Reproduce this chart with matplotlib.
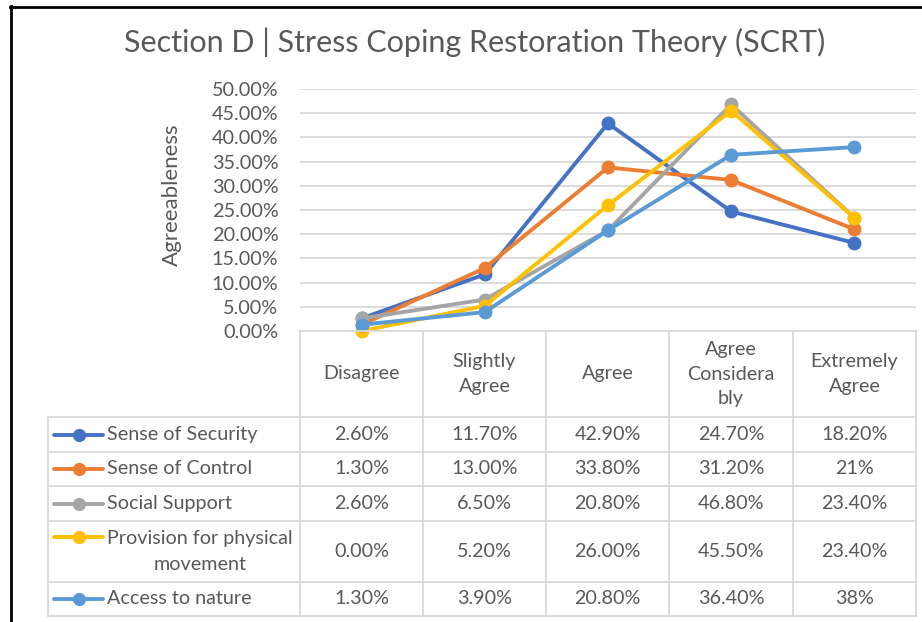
import matplotlib
matplotlib.use("Agg")
import matplotlib.pyplot as plt
from matplotlib.lines import Line2D
import numpy as np

plt.rcParams['font.family'] = ['Lato', 'DejaVu Sans']

categories = ["Disagree", "Slightly\nAgree", "Agree", "Agree\nConsidera\nbly", "Extremely\nAgree"]
series_names = ["Sense of Security", "Sense of Control", "Social Support",
                "Provision for physical\nmovement", "Access to nature"]
sense_of_security = [2.6, 11.7, 42.9, 24.7, 18.2]
sense_of_control = [1.3, 13.0, 33.8, 31.2, 21.0]
social_support = [2.6, 6.5, 20.8, 46.8, 23.4]
physical_movement = [0.0, 5.2, 26.0, 45.5, 23.4]
access_to_nature = [1.3, 3.9, 20.8, 36.4, 38.0]
# cells that Excel showed without decimals (row, col)
whole_pct_cells = {(1, 4), (4, 4)}
yticks = [0, 5, 10, 15, 20, 25, 30, 35, 40, 45, 50]

all_series = [sense_of_security, sense_of_control, social_support,
              physical_movement, access_to_nature]
colors = ["#4472C4", "#ED7D31", "#A5A5A5", "#FFC000", "#5B9BD5"]
txt = "#595959"
gridc = "#D9D9D9"
fs = 14.2

W, H = 922, 622
fig = plt.figure(figsize=(W / 100, H / 100), dpi=100)


def fx(x):
    return x / W


def fy(y):
    return 1 - y / H


# chart border (only top and left visible)
fig.add_artist(Line2D([fx(10.5), fx(10.5)], [fy(6), fy(622)], color="black", lw=2))
fig.add_artist(Line2D([fx(10), fx(922)], [fy(6.5), fy(6.5)], color="black", lw=2))

fig.text(fx(475), fy(42), "Section D | Stress Coping Restoration Theory (SCRT)",
         ha="center", va="center", fontsize=22, color=txt)

# plot area
x0, x1, ytop, ybot = 300, 916, 89, 331
ax = fig.add_axes([fx(x0), fy(ybot), fx(x1 - x0), (ybot - ytop) / H])
ax.set_xlim(-0.5, 4.5)
ax.set_ylim(0, 50)
ax.set_yticks(yticks)
ax.set_yticklabels(["%.2f%%" % t for t in yticks], fontsize=14.3, color=txt)
ax.tick_params(axis="y", length=0, pad=15.5)
ax.set_xticks([])
for s in ax.spines.values():
    s.set_visible(False)
ax.grid(axis="y", color=gridc, lw=1.3)
ax.set_axisbelow(True)
ax.patch.set_alpha(0)

xs = np.arange(len(categories))
for vals, c in zip(all_series, colors):
    ax.plot(xs, vals, color=c, lw=2.8, marker="o", markersize=9, clip_on=False, zorder=3)

fig.text(fx(172), fy(195), "Agreeableness", rotation=90, ha="center", va="center",
         fontsize=16, color=txt)

# data table
col_edges = [300, 423, 546, 669, 793, 916]
row_edges = [417, 452, 486, 521, 582, 616]
tab_left = 48
lw_t = 1.3
for xe in col_edges:
    fig.add_artist(Line2D([fx(xe), fx(xe)], [fy(331), fy(616)], color=gridc, lw=lw_t))
fig.add_artist(Line2D([fx(tab_left), fx(tab_left)], [fy(417), fy(616)], color=gridc, lw=lw_t))
fig.add_artist(Line2D([fx(300), fx(916)], [fy(331), fy(331)], color=gridc, lw=lw_t))
for ye in row_edges:
    fig.add_artist(Line2D([fx(tab_left), fx(916)], [fy(ye), fy(ye)], color=gridc, lw=lw_t))

for j, cat in enumerate(categories):
    cx = (col_edges[j] + col_edges[j + 1]) / 2
    fig.text(fx(cx), fy(374), cat, ha="center", va="center", fontsize=fs,
             color=txt, linespacing=1.57)

for i, (name, vals, c) in enumerate(zip(series_names, all_series, colors)):
    cy = (row_edges[i] + row_edges[i + 1]) / 2
    ly = cy if "\n" not in name else row_edges[i] + 16
    fig.add_artist(Line2D([fx(54), fx(103)], [fy(ly), fy(ly)], color=c, lw=2.8,
                          solid_capstyle="round"))
    fig.add_artist(Line2D([fx(78.5)], [fy(ly)], color=c, marker="o", markersize=8.5))
    fig.text(fx(107), fy(cy), name, ha="left", va="center", fontsize=fs,
             color=txt, multialignment="center", linespacing=1.6)
    for j, v in enumerate(vals):
        cx = (col_edges[j] + col_edges[j + 1]) / 2
        s = "%d%%" % round(v) if (i, j) in whole_pct_cells else "%.2f%%" % v
        fig.text(fx(cx), fy(cy), s, ha="center", va="center", fontsize=fs, color=txt)

fig.savefig("out.png", dpi=100, facecolor="white")
